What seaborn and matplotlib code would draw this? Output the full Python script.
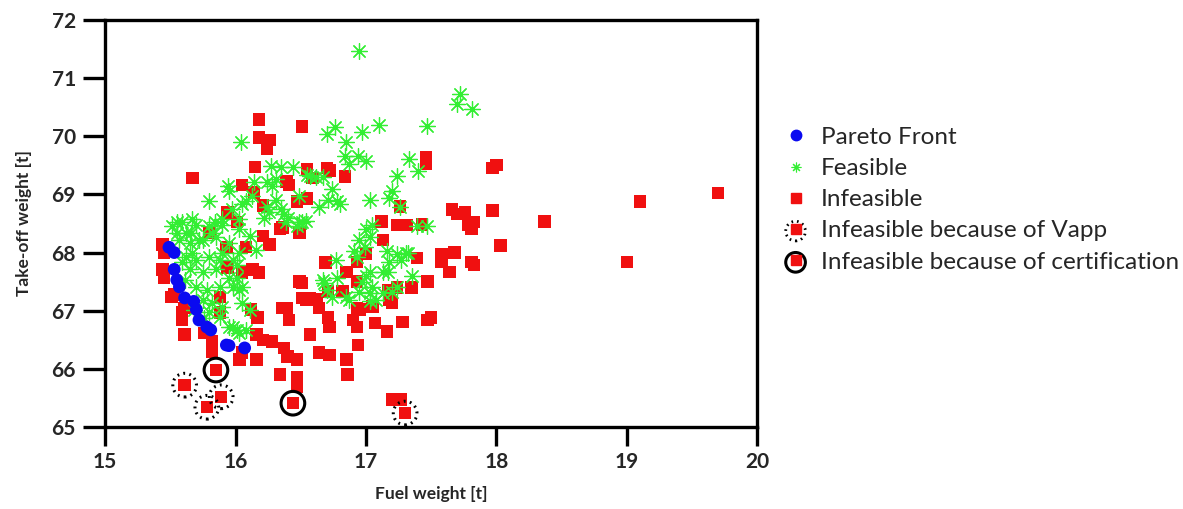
import matplotlib
matplotlib.use("Agg")
import matplotlib.pyplot as plt
import seaborn as sns
from matplotlib.lines import Line2D
from matplotlib.legend_handler import HandlerTuple

# ---------------- data ----------------
pareto_x = [15.49, 15.53, 15.53, 15.55, 15.57, 15.61, 15.68, 15.70, 15.72, 15.78, 15.81, 15.93, 15.95, 16.07]
pareto_y = [68.09, 68.00, 67.71, 67.53, 67.41, 67.22, 67.16, 67.02, 66.84, 66.72, 66.67, 66.41, 66.40, 66.36]

infeasible_x = [16.18, 16.51, 16.18, 16.26, 16.24, 16.15, 15.67, 16.05, 16.14, 16.39, 16.41, 16.55, 16.70, 16.72,
                16.59, 16.84, 16.21, 16.47, 16.55, 15.94, 16.01, 16.36, 17.46, 17.46, 17.97, 18.00, 19.10, 19.70,
                17.66, 17.70, 17.76, 17.97, 18.37, 17.78, 17.83, 17.26, 17.12, 17.24, 17.31, 17.43, 17.13, 17.81,
                18.03, 17.39, 17.58, 17.68, 17.58, 17.64, 17.81, 17.83, 19.00, 17.47, 17.35, 17.24, 17.17, 17.28,
                17.47, 17.50, 17.27, 16.69, 16.85, 16.93, 17.00, 16.93, 16.82, 16.71, 16.51, 16.93, 17.05, 17.20,
                16.51, 16.57, 16.62, 16.64, 16.71, 16.72, 16.90, 16.93, 17.07, 17.16, 16.57, 16.94, 16.64, 16.72,
                16.85, 16.86, 16.49, 16.34, 16.26, 16.21, 15.44, 15.45, 15.44, 15.45, 15.51, 15.59, 15.61, 15.59,
                15.76, 15.82, 15.82, 16.03, 16.16, 16.05, 16.16, 16.21, 16.28, 16.37, 16.40, 16.34, 16.47, 16.47,
                16.47, 15.93, 16.08, 15.94, 16.13, 16.18, 16.05, 16.12, 16.17, 15.80, 15.88, 15.88, 16.39, 16.41,
                16.54, 16.36, 16.49, 17.20, 15.53, 15.61, 16.95, 17.18]
infeasible_y = [70.29, 70.17, 69.98, 69.93, 69.79, 69.47, 69.28, 69.16, 69.03, 69.22, 69.16, 69.43, 69.45, 69.41,
                69.28, 69.31, 68.81, 68.88, 68.93, 68.69, 68.52, 68.43, 69.64, 69.52, 69.45, 69.50, 68.88, 69.02,
                68.74, 68.66, 68.69, 68.72, 68.53, 68.48, 68.52, 68.79, 68.53, 68.47, 68.47, 68.48, 68.22, 68.40,
                68.12, 67.91, 67.97, 68.00, 67.84, 67.67, 67.84, 67.79, 67.84, 67.50, 67.40, 67.40, 67.36, 66.81,
                66.84, 66.88, 65.47, 67.83, 67.67, 67.84, 67.97, 67.50, 67.33, 67.33, 67.48, 67.05, 67.07, 67.14,
                67.22, 67.22, 67.19, 67.05, 66.88, 66.72, 66.84, 66.72, 66.79, 66.64, 66.59, 66.41, 66.28, 66.24,
                66.16, 65.90, 68.34, 68.40, 68.14, 68.28, 68.14, 68.00, 67.71, 67.57, 67.24, 66.97, 66.59, 66.84,
                66.62, 66.47, 66.29, 66.16, 66.16, 66.28, 66.59, 66.50, 66.47, 66.36, 66.21, 65.90, 66.16, 65.86,
                65.69, 68.10, 68.10, 67.74, 67.71, 67.66, 67.66, 67.02, 66.88, 68.34, 67.24, 66.97, 67.05, 66.84,
                67.19, 67.05, 67.50, 65.47, 67.28, 67.05, 67.02, 67.19]

feasible_x = [16.95, 17.72, 17.70, 17.81, 17.47, 16.04,
              16.76, 16.70, 16.85, 16.97, 17.10, 16.84, 16.94, 17.00, 16.87, 17.33, 17.40, 17.24, 17.20, 17.18,
              17.03, 16.74, 16.78, 16.64, 16.57, 16.67, 16.80, 16.71, 16.54, 17.05, 17.26, 17.47, 17.00, 17.03,
              16.99, 16.91, 16.93, 17.16, 17.24, 17.32, 17.18, 17.17, 17.13, 17.03, 16.97, 16.95, 17.03, 17.08,
              16.77, 16.78, 16.68, 17.35, 17.24, 17.20, 16.74, 16.70, 16.87, 17.03, 17.31, 17.27, 16.95, 17.00,
              17.05, 17.13, 16.85, 16.67, 17.39,
              16.27, 16.35, 16.44, 16.55, 16.62, 16.24, 16.28, 16.31, 15.94, 15.95, 15.80, 16.14, 16.13, 16.31,
              16.49, 16.26, 16.37, 16.24, 16.05, 15.55, 15.67, 15.84, 15.90, 16.03, 16.22, 16.39, 16.51, 15.97,
              16.35, 16.40, 16.08,
              15.51, 15.59, 15.70, 15.80, 15.90, 16.03, 16.47, 15.57, 15.65, 15.75, 15.85, 15.95, 16.11, 15.62,
              15.70, 15.80, 15.90, 16.03, 16.16, 15.65, 15.75, 15.85, 15.98, 15.70, 15.78, 15.88, 15.98, 16.03,
              15.75, 15.82, 15.90, 15.80, 15.88, 15.95, 16.01, 16.03, 16.08, 16.01, 16.11, 15.66, 15.55, 15.88,
              15.95, 15.62, 15.72, 15.82, 16.49, 16.01, 16.05, 16.05, 15.98, 15.67, 15.59, 15.61, 15.68, 15.76]
feasible_y = [71.47, 70.72, 70.55, 70.47, 70.17, 69.90,
              70.16, 70.03, 69.90, 70.07, 70.19, 69.66, 69.66, 69.57, 69.52, 69.60, 69.40, 69.31, 69.05, 68.93,
              68.91, 69.09, 68.88, 68.78, 69.31, 69.29, 68.83, 68.91, 68.55, 68.48, 68.79, 68.45, 68.40, 68.26,
              68.09, 68.02, 67.93, 68.02, 67.97, 68.00, 67.83, 67.67, 67.66, 67.66, 67.50, 67.33, 67.31, 67.19,
              67.88, 67.57, 67.48, 67.59, 67.41, 67.33, 67.24, 67.36, 67.19, 67.16, 68.00, 67.88, 68.22, 67.59,
              67.41, 67.31, 67.24, 67.53, 68.45,
              69.48, 69.47, 69.47, 69.34, 69.29, 69.22, 69.14, 69.26, 69.14, 69.05, 68.88, 69.22, 68.97, 68.91,
              68.97, 68.69, 68.66, 68.79, 68.83, 68.53, 68.57, 68.53, 68.57, 68.57, 68.60, 68.52, 68.52, 68.74,
              68.74, 68.60, 68.88,
              68.45, 68.52, 68.48, 68.45, 68.48, 68.40, 68.45, 68.22, 68.17, 68.22, 68.26, 68.17, 68.28, 67.93,
              67.88, 67.93, 68.00, 68.00, 68.05, 67.71, 67.66, 67.71, 67.88, 67.41, 67.36, 67.41, 67.41, 67.36,
              67.19, 67.14, 67.07, 66.97, 66.90, 66.72, 66.67, 66.62, 66.67, 67.57, 67.02, 68.34, 68.34, 67.88,
              67.57, 68.34, 68.22, 68.34, 68.52, 67.79, 67.41, 67.14, 66.72, 68.00, 67.84, 67.53, 67.02, 66.88]

vapp_x = [15.61, 15.89, 15.78, 17.30]
vapp_y = [65.72, 65.52, 65.34, 65.24]
cert_x = [15.85, 16.44]
cert_y = [65.98, 65.41]

series_labels = ["Pareto Front", "Feasible", "Infeasible",
                 "Infeasible because of Vapp", "Infeasible because of certification"]
x_ticks = [15, 16, 17, 18, 19, 20]
y_ticks = [65, 66, 67, 68, 69, 70, 71, 72]

# ---------------- style ----------------
sns.set_theme(style="white")
plt.rcParams['font.family'] = ['Lato', 'DejaVu Sans']

RED = "#f01010"
GREEN = "#33ee33"
BLUE = "#0a0af0"
DOTS = (0, (0.6, 1.4))

fig = plt.figure(figsize=(11.83, 5.09), dpi=100)
ax = fig.add_axes([0.0888, 0.161, 0.5514, 0.800])

sq = 80
sns.scatterplot(x=infeasible_x, y=infeasible_y, marker="s", s=sq, color=RED,
                edgecolor="none", linewidth=0, ax=ax, zorder=2)
sns.scatterplot(x=vapp_x, y=vapp_y, marker="s", s=sq, color=RED,
                edgecolor="none", linewidth=0, ax=ax, zorder=2)
sns.scatterplot(x=cert_x, y=cert_y, marker="s", s=sq, color=RED,
                edgecolor="none", linewidth=0, ax=ax, zorder=2)
sns.scatterplot(x=feasible_x, y=feasible_y, marker=(8, 2, 0), s=130, color=GREEN,
                linewidth=0.9, ax=ax, zorder=3)
sns.scatterplot(x=pareto_x, y=pareto_y, marker="o", s=85, color=BLUE,
                edgecolor="none", linewidth=0, ax=ax, zorder=4)
# rings
ax.scatter(vapp_x, vapp_y, marker="o", s=290, facecolors="none", edgecolors="black",
           linewidths=2.2, linestyles=DOTS, zorder=5)
ax.scatter(cert_x, cert_y, marker="o", s=290, facecolors="none", edgecolors="black",
           linewidths=2.2, zorder=5)

ax.set_xlim(15, 20)
ax.set_ylim(65, 72)
ax.set_xticks(x_ticks)
ax.set_yticks(y_ticks)
ax.set_xticklabels([str(t) for t in x_ticks], fontsize=15, fontweight="bold")
ax.set_yticklabels([str(t) for t in y_ticks], fontsize=15, fontweight="bold")
ax.tick_params(axis="y", direction="out", length=16, width=2.4, color="black", left=True, pad=5)
ax.tick_params(axis="x", direction="out", length=14, width=2.4, color="black", bottom=True, pad=4)
for sp in ax.spines.values():
    sp.set_linewidth(2.4)
    sp.set_color("black")
ax.set_xlabel("Fuel weight [t]", fontsize=12.5, fontweight="bold", labelpad=10)
ax.set_ylabel("Take-off weight [t]", fontsize=12.5, fontweight="bold", labelpad=14)

# legend handles
h_p = Line2D([], [], marker="o", ls="none", color=BLUE, markersize=7.5)
h_f = Line2D([], [], marker=(8, 2, 0), ls="none", color=GREEN, markersize=7, markeredgewidth=0.8)
h_i = Line2D([], [], marker="s", ls="none", color=RED, markersize=7.5)
h_vr = ax.scatter([], [], marker="o", s=200, facecolors="none", edgecolors="black",
                  linewidths=2.0, linestyles=DOTS)
h_cr = ax.scatter([], [], marker="o", s=200, facecolors="none", edgecolors="black",
                  linewidths=2.2)
h_sq = Line2D([], [], marker="s", ls="none", color=RED, markersize=7.5)
leg = fig.legend([h_p, h_f, h_i, (h_vr, h_sq), (h_cr, h_sq)], series_labels,
                 handler_map={tuple: HandlerTuple(ndivide=1, pad=0)},
                 loc="upper left", bbox_to_anchor=(0.654, 0.77), frameon=False,
                 fontsize=17.5, handlelength=1.0, handletextpad=0.55, labelspacing=0.42,
                 borderaxespad=0, scatterpoints=1)
fig.savefig("out.png", dpi=100)
